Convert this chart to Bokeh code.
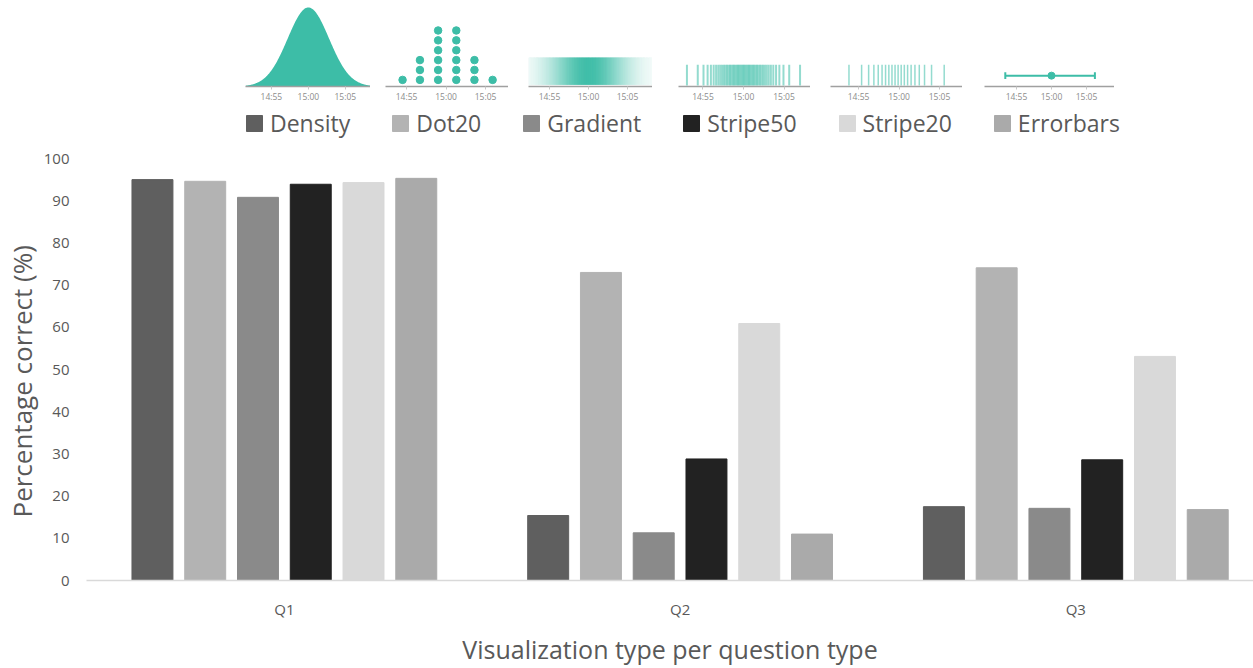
from statistics import NormalDist
import numpy as np
from bokeh.plotting import figure
from bokeh.models import Range1d, FixedTicker, ColumnDataSource, Legend, LegendItem, Title
from bokeh.layouts import column, row
from bokeh.transform import dodge
from bokeh.embed import file_html
from bokeh.resources import INLINE

# ---------------- data ----------------
questions = ["Q1", "Q2", "Q3"]
series = ["Density", "Dot20", "Gradient", "Stripe50", "Stripe20", "Errorbars"]
density = [95.0, 15.4, 17.5]
dot20 = [94.6, 73.0, 74.1]
gradient = [90.8, 11.3, 17.1]
stripe50 = [93.9, 28.8, 28.6]
stripe20 = [94.3, 60.9, 53.1]
errorbars = [95.3, 11.0, 16.8]
y_ticks = [0, 10, 20, 30, 40, 50, 60, 70, 80, 90, 100]

# icon (legend picture) data, minutes relative to 15:00
icon_ticks = [-5, 0, 5]
icon_tick_labels = ["14:55", "15:00", "15:05"]
dot_bins = [-5.5, -3.3, -1.0, 1.3, 3.6, 5.9]
dot_counts = [1, 3, 6, 6, 3, 1]
icon_sd = 3.0
gradient_sd = 3.5
density_sd = 2.8
errorbar_low, errorbar_mid, errorbar_high = -6.6, 0.0, 6.2

# ---------------- style ----------------
FONT = "Open Sans"
TEXT = "#595959"
TEAL = "#3dbda7"
colors = ["#5f5f5f", "#b3b3b3", "#8a8a8a", "#222222", "#d9d9d9", "#aaaaaa"]


def icon_fig(left_border, frame_w, xr):
    f = figure(width=left_border + frame_w, height=104,
               min_border_left=left_border, min_border_right=0,
               min_border_top=4, min_border_bottom=17,
               x_range=Range1d(*xr), y_range=Range1d(0, 83),
               y_axis_location=None, toolbar_location=None,
               output_backend="svg", outline_line_color=None)
    f.grid.visible = False
    ax = f.xaxis[0]
    ax.ticker = FixedTicker(ticks=icon_ticks)
    ax.major_label_overrides = {t: l for t, l in zip(icon_ticks, icon_tick_labels)}
    ax.axis_line_color = "#a0a0a0"
    ax.axis_line_width = 1.5
    ax.major_tick_out = 3
    ax.major_tick_in = 0
    ax.major_tick_line_color = "#c8c8c8"
    ax.minor_tick_line_color = None
    ax.major_label_text_font_size = "8.5px"
    ax.major_label_text_color = "#8c8c8c"
    ax.major_label_text_font = FONT
    ax.major_label_standoff = 1
    return f


def mix(alpha):
    r, g, b = int(TEAL[1:3], 16), int(TEAL[3:5], 16), int(TEAL[5:7], 16)
    return "#%02x%02x%02x" % tuple(int(round(255 - (255 - c) * alpha)) for c in (r, g, b))


# Density icon
f1 = icon_fig(245, 125, (-8.5, 8.4))
t = np.linspace(-8.5, 8.4, 300)
f1.varea(x=t, y1=0, y2=80 * np.exp(-t ** 2 / (2 * density_sd ** 2)), fill_color=TEAL)

# Dot20 icon
f2 = icon_fig(15, 123, (-7.66, 7.91))
dx, dy = [], []
for b, c in zip(dot_bins, dot_counts):
    for k in range(c):
        dx.append(b)
        dy.append(6.7 + 10 * k)
f2.scatter(dx, dy, size=7.5, color=TEAL)

# Gradient icon
f3 = icon_fig(20, 124, (-7.69, 8.21))
edges = np.linspace(-7.69, 8.21, 160)
cent = (edges[:-1] + edges[1:]) / 2
gcols = [mix(a) for a in np.exp(-cent ** 2 / (2 * gradient_sd ** 2))]
f3.quad(left=edges[:-1], right=edges[1:], bottom=2, top=29,
        fill_color=gcols, line_color=gcols, line_width=0.6)

# Stripe50 icon
f4 = icon_fig(26, 132, (-8.02, 8.27))
q50 = [NormalDist(0, icon_sd).inv_cdf((i + 0.5) / 50) for i in range(50)]
f4.segment(x0=q50, y0=1, x1=q50, y1=22, line_color=TEAL, line_alpha=0.55, line_width=2)

# Stripe20 icon
f5 = icon_fig(20, 132, (-8.46, 7.84))
q20 = [NormalDist(-0.3, icon_sd).inv_cdf((i + 0.5) / 20) for i in range(20)]
f5.segment(x0=q20, y0=1, x1=q20, y1=22, line_color=TEAL, line_alpha=0.55, line_width=1.5)

# Errorbars icon
f6 = icon_fig(22, 130, (-9.57, 9.0))
f6.segment(x0=[errorbar_low], y0=[11], x1=[errorbar_high], y1=[11], line_color=TEAL, line_width=2)
f6.segment(x0=[errorbar_low, errorbar_high], y0=[7.5, 7.5], x1=[errorbar_low, errorbar_high],
           y1=[14.5, 14.5], line_color=TEAL, line_width=2)
f6.scatter([errorbar_mid], [11], size=7, color=TEAL)

header = row(f1, f2, f3, f4, f5, f6)

# ---------------- main chart ----------------
# frame reaches above 100 so the legend (inside the frame) sits under the icons
p = figure(width=1253, height=564, min_border_left=85, min_border_right=0,
           min_border_top=0, min_border_bottom=88,
           x_range=Range1d(-0.5, 2.449), y_range=Range1d(0, 112.8),
           toolbar_location=None, output_backend="svg", outline_line_color=None)
p.grid.visible = False

src = ColumnDataSource(dict(x=list(range(len(questions))), Density=density, Dot20=dot20,
                            Gradient=gradient, Stripe50=stripe50, Stripe20=stripe20,
                            Errorbars=errorbars))
step = 2 / 15
items = []
for i, name in enumerate(series):
    r = p.vbar(x=dodge("x", (i - 2.5) * step), top=name, width=0.1035, source=src,
               fill_color=colors[i], line_color=colors[i])
    items.append(LegendItem(label=name, renderers=[r]))

legend = Legend(items=items, orientation="horizontal", location=(158, 441),
                glyph_width=20, glyph_height=20, label_standoff=6, spacing=40,
                padding=0, margin=0, border_line_color=None, background_fill_alpha=0,
                label_text_font=FONT, label_text_font_size="23px", label_text_color=TEXT)
p.add_layout(legend)

ya = p.yaxis[0]
ya.ticker = FixedTicker(ticks=y_ticks)
ya.axis_line_color = None
ya.major_tick_line_color = None
ya.minor_tick_line_color = None
ya.major_label_text_font = FONT
ya.major_label_text_font_size = "15px"
ya.major_label_text_color = TEXT
ya.major_label_standoff = 11

# y-axis title, anchored near the bottom so it is centred on the 0-100 span
p.add_layout(Title(text="Percentage correct (%)", align="left", offset=63, standoff=2,
                   text_font=FONT, text_font_size="26px", text_font_style="normal",
                   text_color=TEXT), "left")

xa = p.xaxis[0]
xa.ticker = FixedTicker(ticks=list(range(len(questions))))
xa.major_label_overrides = {i: q for i, q in enumerate(questions)}
xa.axis_line_color = "#d9d9d9"
xa.axis_line_width = 1.5
xa.major_tick_line_color = None
xa.minor_tick_line_color = None
xa.major_label_text_font = FONT
xa.major_label_text_font_size = "15px"
xa.major_label_text_color = TEXT
xa.major_label_standoff = 12
xa.axis_label = "Visualization type per question type"
xa.axis_label_text_font = FONT
xa.axis_label_text_font_size = "25px"
xa.axis_label_text_font_style = "normal"
xa.axis_label_text_color = TEXT
xa.axis_label_standoff = 10

layout = column(header, p)
open("out.html", "w").write(file_html(layout, INLINE))
